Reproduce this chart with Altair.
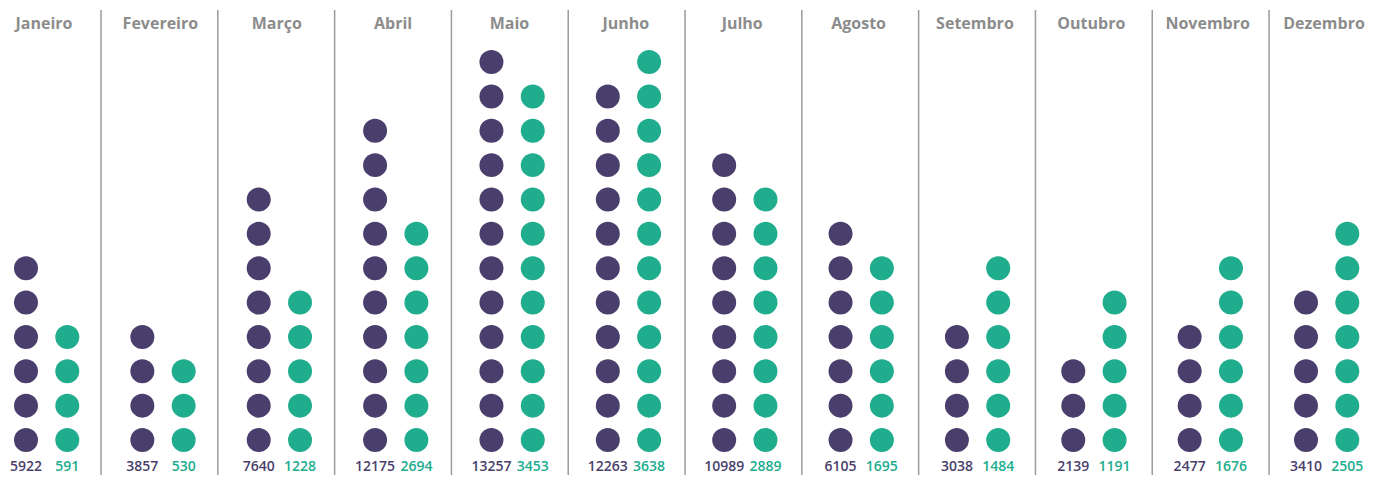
import altair as alt
import pandas as pd

months = ["Janeiro", "Fevereiro", "Março", "Abril", "Maio", "Junho",
          "Julho", "Agosto", "Setembro", "Outubro", "Novembro", "Dezembro"]
purple_vals = [5922, 3857, 7640, 12175, 13257, 12263, 10989, 6105, 3038, 2139, 2477, 3410]
green_vals = [591, 530, 1228, 2694, 3453, 3638, 2889, 1695, 1484, 1191, 1676, 2505]
purple_dots = [6, 4, 8, 10, 12, 11, 9, 7, 4, 3, 4, 5]
green_dots = [4, 3, 5, 7, 11, 12, 8, 6, 6, 5, 6, 7]

PURPLE = "#4a3f6c"
GREEN = "#20ad8e"
OFF_P = 0.36
OFF_G = 0.715
OFF_T = 0.515
Y_TOP = 13.573
Y_BOT = -0.0186
Y_RULE_TOP = 13.515
Y_TITLE = 13.107

dots = []
labels = []
titles = []
rules = []
for i, m in enumerate(months):
    for k in range(1, purple_dots[i] + 1):
        dots.append({"x": i + OFF_P, "y": k, "s": "p"})
    for k in range(1, green_dots[i] + 1):
        dots.append({"x": i + OFF_G, "y": k, "s": "g"})
    labels.append({"x": i + OFF_P, "y": Y_BOT + 0.02, "t": str(purple_vals[i]), "s": "p"})
    labels.append({"x": i + OFF_G, "y": Y_BOT + 0.02, "t": str(green_vals[i]), "s": "g"})
    titles.append({"x": i + OFF_T, "y": Y_TITLE, "t": m})
    if i > 0:
        rules.append({"x": 1.0047 + 1.00378 * (i - 1), "y": Y_RULE_TOP, "y2": Y_BOT})

xs = alt.Scale(domain=[0.2054, 11.867], nice=False, zero=False)
ys = alt.Scale(domain=[Y_BOT, Y_TOP], nice=False, zero=False)
cs = alt.Scale(domain=["p", "g"], range=[PURPLE, GREEN])

X = alt.X("x:Q", scale=xs, axis=None)
Y = alt.Y("y:Q", scale=ys, axis=None)

rule_layer = alt.Chart(pd.DataFrame(rules)).mark_rule(color="#9b9b9b", strokeWidth=1.5).encode(
    x=X, y=Y, y2="y2:Q")

dot_layer = alt.Chart(pd.DataFrame(dots)).mark_circle(size=575, opacity=1).encode(
    x=X, y=Y, color=alt.Color("s:N", scale=cs, legend=None))

label_layer = alt.Chart(pd.DataFrame(labels)).mark_text(
    font="Open Sans", fontSize=14, fontWeight=600, baseline="bottom", align="center"
).encode(x=X, y=Y, text="t:N", color=alt.Color("s:N", scale=cs, legend=None))

title_layer = alt.Chart(pd.DataFrame(titles)).mark_text(
    font="Open Sans", fontSize=16, fontWeight="bold", baseline="middle", align="center", color="#8c8c8c"
).encode(x=X, y=Y, text="t:N")

chart = alt.layer(rule_layer, dot_layer, label_layer, title_layer).properties(
    width=1357, height=467, padding=0,
    autosize=alt.AutoSizeParams(type="none")
).configure_view(stroke=None)

chart.save("out.html", embed_options={"renderer": "svg", "actions": False})
